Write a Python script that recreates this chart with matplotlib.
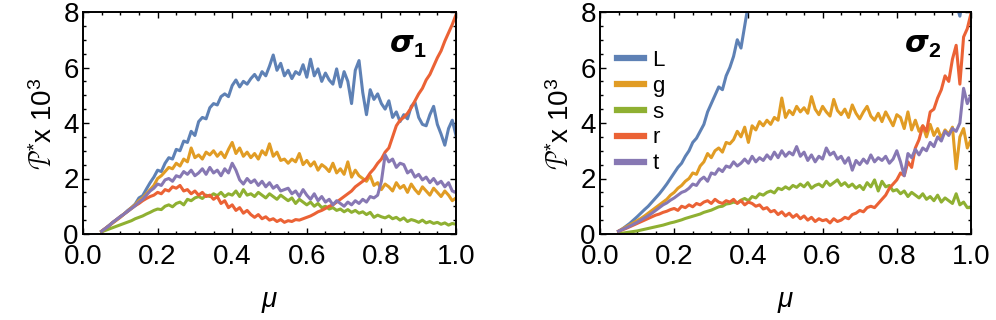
import matplotlib
matplotlib.use("Agg")
import matplotlib.pyplot as plt
import numpy as np
from matplotlib.ticker import MultipleLocator, FormatStrFormatter

BLUE = "#5E81B5"
ORANGE = "#E19C24"
GREEN = "#8FB032"
RED = "#EB6235"
PURPLE = "#8778B3"
FAM = "Liberation Sans"

plt.rcParams["font.family"] = FAM
plt.rcParams["mathtext.fontset"] = "custom"
plt.rcParams["mathtext.rm"] = FAM
plt.rcParams["mathtext.it"] = FAM + ":italic"
plt.rcParams["mathtext.bf"] = FAM + ":bold"

# mu grid: 0.05 .. 1.00 in steps of 0.01 (96 points)
mu = np.round(np.arange(0.05, 1.0001, 0.01), 2)

labels = ["L", "g", "s", "r", "t"]
colors = [BLUE, ORANGE, GREEN, RED, PURPLE]

# ---- sigma_1 (left panel), values x 10^3
L1 = [0.10, 0.20, 0.31, 0.42, 0.52, 0.63, 0.72, 0.85, 0.95, 1.08,
      1.30, 1.38, 1.62, 1.85, 2.05, 2.30, 2.25, 2.55, 2.75, 2.70,
      3.05, 3.00, 3.35, 3.30, 3.70, 3.55, 4.05, 4.20, 4.15, 4.55,
      4.70, 4.65, 4.95, 5.05, 4.95, 5.35, 5.55, 5.30, 5.50, 5.40,
      5.60, 5.75, 5.55, 5.85, 5.70, 6.05, 6.45, 5.90, 6.15, 5.70,
      5.90, 5.60, 5.85, 5.75, 6.10, 5.65, 6.30, 5.70, 5.95, 5.50,
      5.80, 5.55, 5.40, 5.95, 5.30, 5.85, 5.50, 4.70, 5.90, 6.25,
      5.10, 4.30, 5.20, 4.85, 5.05, 4.70, 4.50, 4.80, 4.20, 4.40,
      4.05, 4.30, 4.15, 4.60, 4.75, 4.20, 3.95, 3.90, 4.30, 4.60,
      3.95, 3.60, 3.20, 3.80, 4.10, 3.55]
g1 = [0.10, 0.20, 0.30, 0.40, 0.50, 0.60, 0.72, 0.82, 0.95, 1.05,
      1.20, 1.30, 1.45, 1.60, 1.75, 2.00, 2.10, 2.25, 2.40, 2.35,
      2.55, 2.45, 2.70, 2.60, 3.10, 2.75, 2.85, 2.70, 2.95, 2.85,
      3.00, 2.80, 2.95, 2.75, 3.05, 3.30, 2.90, 3.10, 2.80, 2.95,
      2.75, 2.90, 2.70, 3.00, 2.85, 3.25, 2.80, 2.95, 2.65, 2.70,
      2.55, 2.70, 2.60, 2.90, 2.50, 2.65, 2.45, 2.60, 2.30, 2.50,
      2.40, 2.25, 2.55, 2.20, 2.35, 2.15, 2.60, 2.05, 2.30, 2.10,
      2.00, 1.90, 2.10, 1.75, 1.85, 1.60, 1.80, 1.70, 1.55, 1.85,
      1.65, 1.75, 1.50, 1.80, 1.60, 1.45, 1.70, 1.55, 1.40, 1.65,
      1.50, 1.35, 1.55, 1.40, 1.20, 1.30]
s1 = [0.08, 0.13, 0.18, 0.23, 0.28, 0.33, 0.38, 0.43, 0.48, 0.55,
      0.60, 0.65, 0.72, 0.78, 0.85, 0.90, 0.88, 1.00, 1.05, 0.98,
      1.10, 1.15, 1.05, 1.25, 1.20, 1.30, 1.35, 1.28, 1.40, 1.35,
      1.45, 1.38, 1.50, 1.35, 1.45, 1.40, 1.55, 1.35, 1.60, 1.40,
      1.45, 1.35, 1.50, 1.40, 1.30, 1.45, 1.35, 1.25, 1.40, 1.30,
      1.20, 1.30, 1.10, 1.25, 1.15, 1.05, 1.15, 1.00, 1.10, 0.95,
      1.00, 0.90, 0.95, 0.85, 0.90, 0.80, 0.88, 0.78, 0.85, 0.75,
      0.80, 0.70, 0.78, 0.60, 0.68, 0.62, 0.58, 0.65, 0.55, 0.60,
      0.50, 0.58, 0.45, 0.52, 0.48, 0.42, 0.50, 0.40, 0.45, 0.38,
      0.42, 0.35, 0.40, 0.32, 0.38, 0.35]
r1 = [0.10, 0.20, 0.30, 0.42, 0.52, 0.62, 0.72, 0.82, 0.92, 1.02,
      1.10, 1.20, 1.28, 1.35, 1.40, 1.50, 1.45, 1.60, 1.55, 1.70,
      1.65, 1.75, 1.55, 1.60, 1.45, 1.55, 1.40, 1.50, 1.35, 1.40,
      1.25, 1.35, 1.10, 1.20, 0.95, 1.05, 0.85, 0.95, 0.75, 0.85,
      0.70, 0.60, 0.70, 0.55, 0.62, 0.50, 0.55, 0.45, 0.52, 0.42,
      0.48, 0.45, 0.52, 0.50, 0.55, 0.60, 0.65, 0.72, 0.80, 0.85,
      0.92, 1.00, 1.05, 1.15, 1.25, 1.35, 1.45, 1.55, 1.70, 1.80,
      1.90, 2.00, 2.20, 2.35, 2.55, 2.70, 2.95, 3.10, 3.50, 3.90,
      4.10, 4.20, 4.35, 4.55, 4.80, 5.05, 5.25, 5.55, 5.75, 6.05,
      6.35, 6.60, 6.95, 7.25, 7.55, 7.90]
t1 = [0.10, 0.20, 0.30, 0.42, 0.52, 0.62, 0.72, 0.82, 0.92, 1.02,
      1.15, 1.25, 1.40, 1.55, 1.65, 1.80, 1.75, 1.95, 2.00, 1.90,
      2.10, 2.05, 2.25, 2.15, 2.30, 2.10, 2.20, 2.35, 2.15, 2.40,
      2.20, 2.30, 2.10, 2.35, 2.20, 2.55, 2.30, 1.95, 1.80, 2.00,
      1.85, 1.95, 1.75, 1.90, 1.70, 1.85, 1.65, 1.75, 1.55, 1.60,
      1.65, 1.45, 1.55, 1.35, 1.60, 1.40, 1.25, 1.45, 1.20, 1.35,
      1.15, 1.25, 1.05, 1.20, 1.10, 1.00, 1.15, 1.05, 1.20, 1.10,
      1.25, 1.15, 1.35, 1.30, 1.40, 1.90, 2.85, 2.60, 2.70, 2.40,
      2.55, 2.50, 2.20, 2.30, 2.05, 2.15, 1.95, 2.05, 1.85, 2.00,
      1.80, 1.90, 1.70, 1.85, 1.55, 1.50]

# ---- sigma_2 (right panel), values x 10^3
L2 = [0.10, 0.18, 0.28, 0.38, 0.50, 0.62, 0.75, 0.88, 1.00, 1.15,
      1.30, 1.45, 1.62, 1.80, 2.00, 2.20, 2.40, 2.55, 2.80, 3.00,
      3.30, 3.45, 3.70, 3.95, 4.40, 4.70, 5.00, 5.30, 5.20, 5.70,
      6.00, 6.40, 7.00, 6.70, 7.50, 8.30, 8.80, 9.20, 9.60, 10.0,
      10.3, 10.6, 10.9, 11.1, 11.4, 11.6, 11.8, 12.0, 12.1, 12.2,
      12.3, 12.3, 12.4, 12.4, 12.3, 12.3, 12.2, 12.1, 12.0, 11.9,
      11.8, 11.6, 11.5, 11.3, 11.1, 10.9, 10.8, 10.6, 10.4, 10.2,
      10.0, 9.90, 9.80, 9.70, 9.60, 9.50, 9.40, 9.30, 9.20, 9.10,
      9.00, 8.90, 8.80, 8.70, 8.60, 8.50, 8.40, 8.30, 8.20, 8.10,
      8.10, 8.30, 7.85, 8.60, 8.20, 8.80]
g2 = [0.10, 0.18, 0.25, 0.32, 0.40, 0.48, 0.56, 0.65, 0.75, 0.85,
      0.95, 1.05, 1.15, 1.25, 1.40, 1.50, 1.65, 1.75, 1.90, 2.00,
      2.20, 2.15, 2.45, 2.60, 2.90, 2.75, 3.00, 3.10, 2.95, 3.30,
      3.25, 3.40, 3.70, 3.50, 3.85, 3.30, 3.90, 3.75, 4.05, 3.90,
      4.10, 3.95, 4.20, 4.10, 4.90, 4.20, 4.45, 4.30, 4.60, 4.40,
      4.55, 4.35, 4.95, 4.50, 4.30, 4.60, 4.40, 4.25, 4.85, 4.45,
      4.30, 4.50, 4.20, 4.65, 4.35, 4.15, 4.40, 4.60, 4.25, 4.10,
      4.35, 4.05, 4.40, 4.15, 3.90, 4.30, 4.20, 3.80, 4.40, 3.75,
      4.10, 3.70, 3.90, 3.50, 3.95, 3.55, 3.80, 3.45, 3.75, 3.60,
      3.85, 2.35, 3.50, 3.80, 3.10, 3.40]
s2 = [0.02, 0.03, 0.05, 0.07, 0.09, 0.11, 0.14, 0.17, 0.20, 0.23,
      0.26, 0.29, 0.32, 0.36, 0.40, 0.43, 0.47, 0.51, 0.56, 0.60,
      0.64, 0.68, 0.72, 0.78, 0.82, 0.86, 0.92, 0.98, 1.00, 1.08,
      1.10, 1.15, 1.12, 1.22, 1.28, 1.20, 1.35, 1.30, 1.45, 1.40,
      1.50, 1.55, 1.48, 1.65, 1.60, 1.70, 1.62, 1.75, 1.68, 1.80,
      1.70, 1.85, 1.65, 1.75, 1.80, 1.70, 1.90, 1.75, 1.85, 1.95,
      1.75, 1.85, 1.70, 1.80, 1.65, 1.75, 1.60, 1.85, 1.70, 1.95,
      1.55, 1.90, 1.70, 1.75, 1.55, 1.60, 1.45, 1.55, 1.35, 1.50,
      1.40, 1.30, 1.45, 1.25, 1.35, 1.20, 1.40, 1.15, 1.30, 1.20,
      1.10, 1.45, 1.05, 1.15, 0.95, 0.95]
r2 = [0.10, 0.15, 0.20, 0.26, 0.32, 0.38, 0.44, 0.50, 0.56, 0.62,
      0.68, 0.72, 0.78, 0.82, 0.88, 0.92, 0.85, 1.00, 0.95, 1.05,
      0.98, 1.10, 1.05, 1.15, 1.20, 1.10, 1.25, 1.15, 1.10, 1.20,
      1.15, 1.25, 1.10, 1.20, 1.05, 1.15, 1.10, 1.00, 1.05, 0.90,
      0.95, 0.80, 0.85, 0.70, 0.80, 0.65, 0.75, 0.60, 0.70, 0.55,
      0.65, 0.50, 0.60, 0.45, 0.55, 0.48, 0.52, 0.40, 0.55, 0.45,
      0.50, 0.60, 0.55, 0.70, 0.75, 0.85, 0.80, 0.95, 1.00, 0.95,
      1.10, 1.25, 1.40, 1.65, 1.80, 1.95, 2.20, 2.10, 2.60, 2.40,
      3.10, 3.40, 3.90, 3.70, 4.40, 4.50, 4.90, 5.20, 5.70, 5.50,
      6.30, 6.80, 5.40, 7.10, 7.40, 7.95]
t2 = [0.10, 0.16, 0.22, 0.28, 0.35, 0.42, 0.50, 0.58, 0.66, 0.75,
      0.85, 0.95, 1.05, 1.12, 1.22, 1.30, 1.40, 1.50, 1.55, 1.65,
      1.80, 1.75, 1.95, 2.05, 1.90, 2.20, 2.15, 2.35, 2.25, 2.45,
      2.40, 2.60, 2.45, 2.55, 2.70, 2.55, 2.80, 2.60, 2.75, 2.65,
      2.85, 2.70, 2.95, 2.75, 3.00, 2.80, 2.95, 2.85, 3.15, 2.80,
      2.95, 2.65, 2.85, 2.60, 2.80, 2.70, 3.10, 2.85, 2.95, 2.70,
      2.80, 2.55, 2.75, 2.30, 2.65, 2.50, 2.70, 2.55, 2.85, 2.60,
      2.75, 2.65, 2.80, 2.55, 2.70, 3.00, 2.60, 2.10, 2.90, 2.75,
      3.05, 2.85, 3.10, 3.00, 3.30, 3.15, 3.50, 3.35, 3.70, 3.55,
      3.80, 3.70, 4.00, 5.25, 4.70, 5.00]


def panel(ax, series, tag):
    for y, c, lab in zip(series, colors, labels):
        ax.plot(mu, y, color=c, lw=2.2, label=lab)
    ax.set_xlim(0, 1)
    ax.set_ylim(0, 8)
    ax.xaxis.set_major_locator(MultipleLocator(0.2))
    ax.xaxis.set_minor_locator(MultipleLocator(0.05))
    ax.yaxis.set_major_locator(MultipleLocator(2))
    ax.yaxis.set_minor_locator(MultipleLocator(0.5))
    ax.xaxis.set_major_formatter(FormatStrFormatter("%.1f"))
    ax.tick_params(which="both", direction="in", top=True, right=True,
                   labelsize=20, width=1.0)
    ax.tick_params(axis="x", pad=7)
    ax.tick_params(axis="y", pad=3)
    ax.tick_params(which="major", length=4.5)
    ax.tick_params(which="minor", length=2.5)
    for sp in ax.spines.values():
        sp.set_linewidth(1.4)
    ax.set_xlabel(r"$\mu$", fontsize=20, labelpad=14)
    ax.set_ylabel(r"$\mathcal{P}^{*}$x 10$^{3}$", fontsize=20, labelpad=4)
    ax.text(0.87, 0.85, tag, transform=ax.transAxes, fontsize=22,
            ha="center", va="center", zorder=5)


fig = plt.figure(figsize=(9.96, 3.2), dpi=100)
ax1 = fig.add_axes([83 / 996, 86 / 320, 373 / 996, 222 / 320])
ax2 = fig.add_axes([600 / 996, 86 / 320, 371 / 996, 222 / 320])

panel(ax1, [L1, g1, s1, r1, t1], r"$\mathbfit{\sigma}_\mathbf{1}$")
panel(ax2, [L2, g2, s2, r2, t2], r"$\mathbfit{\sigma}_\mathbf{2}$")

ax2.legend(loc="upper left", bbox_to_anchor=(17 / 371, 0.83), frameon=False,
           fontsize=16, handlelength=1.2, handletextpad=0.4,
           labelspacing=0.22, borderaxespad=0, borderpad=0)
for h in ax2.get_legend().get_lines():
    h.set_linewidth(4.5)

fig.savefig("out.png", dpi=100)
